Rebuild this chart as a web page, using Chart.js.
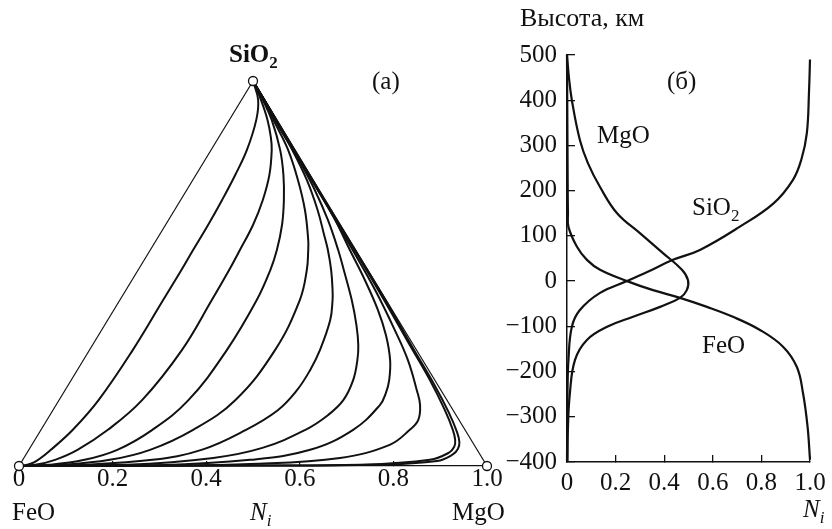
<!DOCTYPE html>
<html>
<head>
<meta charset="utf-8">
<script src="https://cdn.jsdelivr.net/npm/chart.js@4.4.1/dist/chart.umd.min.js"></script>
<style>
  body { margin: 0; background: #fff; }
  #wrap { position: relative; width: 832px; height: 529px; overflow: hidden;
          font-family: "Liberation Serif", "Times New Roman", serif; color: #111; }
  canvas { position: absolute; top: 0; }
  #ternary { left: 0; }
  #profile { left: 500px; }
  .lbl { position: absolute; font-size: 25px; line-height: 25px; white-space: nowrap; }
  .sub { font-size: 17px; position: relative; top: 6px; }
  .bold { font-weight: bold; }
</style>
</head>
<body>
<div id="wrap">
  <canvas id="ternary" width="520" height="529"></canvas>
  <canvas id="profile" width="332" height="529"></canvas>

  <div class="lbl bold" style="left:229px; top:41px;">SiO<span class="sub">2</span></div>
  <div class="lbl" style="left:372px; top:68px;">(a)</div>
  <div class="lbl" style="left:12px; top:499px;">FeO</div>
  <div class="lbl" style="left:250px; top:499px;"><i>N</i><span class="sub"><i>i</i></span></div>
  <div class="lbl" style="left:452px; top:499px;">MgO</div>

  <div class="lbl" style="left:520px; top:5px; font-size:26px; line-height:26px;">Высота, км</div>
  <div class="lbl" style="left:667px; top:68px;">(б)</div>
  <div class="lbl" style="left:597px; top:122px;">MgO</div>
  <div class="lbl" style="left:692px; top:194px;">SiO<span class="sub">2</span></div>
  <div class="lbl" style="left:702px; top:332px;">FeO</div>
  <div class="lbl" style="left:803px; top:496px;"><i>N</i><span class="sub"><i>i</i></span></div>
</div>

<script>
// --- panel (a): paths inside the FeO-MgO-SiO2 triangle, [x, y] ---
const ternaryTicks = [0, 0.2, 0.4, 0.6, 0.8, 1.0];
const vertices = [[0, 0], [0.5, 1], [1, 0]];
const edgeLeft = [[0, 0], [0.5, 1]];
const edgeRight = [[0.5, 1], [1, 0]];

const path1 = [[0.5,1],[0.511,0.951],[0.507,0.899],[0.487,0.821],[0.462,0.756],[0.434,0.691],[0.404,0.626],[0.372,0.561],[0.347,0.509],[0.308,0.431],[0.243,0.301],[0.170,0.171],[0.115,0.094],[0.068,0.042],[0.033,0.010],[0.013,0.002],[0,0]];
const path2 = [[0.5,1],[0.517,0.951],[0.531,0.899],[0.538,0.855],[0.540,0.821],[0.535,0.756],[0.521,0.691],[0.500,0.626],[0.472,0.561],[0.449,0.509],[0.412,0.431],[0.348,0.301],[0.263,0.171],[0.190,0.094],[0.125,0.042],[0.077,0.016],[0.035,0.003],[0,0]];
const path3 = [[0.5,1],[0.521,0.951],[0.540,0.899],[0.558,0.821],[0.565,0.756],[0.566,0.691],[0.562,0.626],[0.551,0.561],[0.537,0.509],[0.508,0.431],[0.444,0.301],[0.362,0.171],[0.285,0.094],[0.210,0.042],[0.140,0.016],[0.065,0.003],[0,0]];
const path4 = [[0.5,1],[0.522,0.951],[0.549,0.886],[0.575,0.821],[0.596,0.743],[0.611,0.665],[0.618,0.587],[0.618,0.561],[0.615,0.509],[0.600,0.431],[0.547,0.301],[0.462,0.171],[0.372,0.094],[0.280,0.042],[0.194,0.016],[0.090,0.003],[0,0]];
const path5 = [[0.5,1],[0.523,0.951],[0.553,0.886],[0.584,0.821],[0.615,0.743],[0.638,0.665],[0.652,0.600],[0.660,0.561],[0.667,0.509],[0.670,0.457],[0.670,0.431],[0.665,0.379],[0.643,0.301],[0.622,0.249],[0.594,0.197],[0.553,0.145],[0.485,0.094],[0.390,0.042],[0.285,0.016],[0.130,0.003],[0,0]];
const path6 = [[0.5,1],[0.524,0.951],[0.560,0.873],[0.598,0.795],[0.632,0.717],[0.660,0.639],[0.682,0.561],[0.694,0.509],[0.711,0.431],[0.721,0.366],[0.725,0.314],[0.723,0.275],[0.714,0.223],[0.693,0.171],[0.660,0.132],[0.612,0.094],[0.520,0.047],[0.415,0.021],[0.230,0.003],[0,0]];
const path7 = [[0.5,1],[0.562,0.873],[0.619,0.756],[0.670,0.652],[0.707,0.561],[0.739,0.483],[0.767,0.405],[0.784,0.340],[0.793,0.275],[0.791,0.223],[0.784,0.190],[0.771,0.158],[0.714,0.094],[0.622,0.042],[0.494,0.016],[0.300,0.002],[0,0]];
const path8 = [[0.5,1],[0.587,0.821],[0.651,0.691],[0.713,0.561],[0.761,0.457],[0.803,0.353],[0.831,0.275],[0.850,0.197],[0.857,0.158],[0.853,0.119],[0.835,0.094],[0.792,0.055],[0.686,0.021],[0.494,0.005],[0.300,0.001],[0,0]];
const path9 = [[0.5,1],[0.588,0.821],[0.652,0.691],[0.717,0.561],[0.780,0.431],[0.835,0.314],[0.878,0.223],[0.910,0.145],[0.927,0.094],[0.932,0.068],[0.930,0.050],[0.918,0.034],[0.878,0.016],[0.729,0.003],[0.494,0.001],[0,0]];
const path10 = [[0.5,1],[0.589,0.821],[0.653,0.691],[0.718,0.561],[0.783,0.431],[0.842,0.306],[0.888,0.210],[0.918,0.140],[0.936,0.088],[0.941,0.062],[0.938,0.045],[0.927,0.030],[0.893,0.013],[0.760,0.003],[0.500,0.001],[0,0]];
const paths = [path1, path2, path3, path4, path5, path6, path7, path8, path9, path10];

// --- panel (б): mole fraction vs height, km ---
const heightTicks = [-400, -300, -200, -100, 0, 100, 200, 300, 400, 500];
const fracTicks = [0, 0.2, 0.4, 0.6, 0.8, 1.0];
const mgoHeight = [500, 450, 400, 312, 261, 208, 150, 106, 62, 25, 2, -20, -37, -57, -79, -101, -130, -174, -247, -322, -400];
const mgoFrac   = [0, 0.008, 0.02, 0.053, 0.086, 0.136, 0.206, 0.30, 0.395, 0.473, 0.498, 0.493, 0.465, 0.383, 0.272, 0.165, 0.082, 0.033, 0.012, 0.004, 0.002];
const sio2Height = [490, 420, 327, 270, 224, 172, 120, 69, 47, 20, 0, -26, -64, -101, -174, -247, -322, -400];
const sio2Frac   = [1.0, 0.996, 0.987, 0.965, 0.93, 0.85, 0.71, 0.547, 0.436, 0.33, 0.247, 0.136, 0.053, 0.02, 0.006, 0.002, 0.001, 0];
const feoHeight = [500, 300, 200, 150, 120, 76, 47, 25, 0, -20, -37, -57, -79, -108, -145, -190, -247, -322, -395];
const feoFrac   = [0, 0.002, 0.003, 0.004, 0.006, 0.041, 0.082, 0.136, 0.247, 0.354, 0.465, 0.576, 0.683, 0.794, 0.889, 0.946, 0.971, 0.99, 1.0];

const INK = '#111';
const tickFont = { family: 'Liberation Serif', size: 25 };
const fracLabel = v => v === 0 ? '0' : v.toFixed(1);

const pairs = p => p.map(([x, y]) => ({ x, y }));
const zip = (xs, ys) => xs.map((x, i) => ({ x, y: ys[i] }));
const curve = (data, width, tension) => ({
    data, showLine: true, borderColor: INK, borderWidth: width,
    tension, pointRadius: 0, fill: false, clip: false
});
// keep label overhang from shrinking the plot area
const noSidePad = s => { s.paddingLeft = 0; s.paddingRight = 0; };

const base = {
    responsive: false,
    animation: false,
    devicePixelRatio: 1,
    plugins: { legend: { display: false }, tooltip: { enabled: false } }
};

// Ternary panel
new Chart(document.getElementById('ternary'), {
    type: 'scatter',
    data: {
        datasets: [
            { data: pairs(vertices), showLine: false, pointRadius: 4.5, pointBackgroundColor: '#fff',
              pointBorderColor: INK, pointBorderWidth: 1.3, clip: false },
            curve(pairs(edgeLeft), 1.2, 0),
            curve(pairs(edgeRight), 1.2, 0),
            ...paths.map(p => curve(pairs(p), 2, 0.4))
        ]
    },
    options: {
        ...base,
        layout: { padding: { left: 19, right: 33, top: 81, bottom: 0 } },
        scales: {
            x: {
                type: 'linear', min: 0, max: 1,
                afterBuildTicks: s => { s.ticks = ternaryTicks.map(v => ({ value: v })); },
                afterFit: s => { s.height = 63; noSidePad(s); },
                border: { color: INK, width: 1.3 },
                grid: { drawOnChartArea: false, tickLength: -5, color: INK, lineWidth: 1.2 },
                ticks: { padding: 3, color: INK, font: tickFont, callback: fracLabel }
            },
            y: { type: 'linear', min: 0, max: 1, display: false }
        }
    }
});

// Height profile panel
new Chart(document.getElementById('profile'), {
    type: 'scatter',
    data: {
        datasets: [
            curve(zip(mgoFrac, mgoHeight), 2.2, 0.4),
            curve(zip(sio2Frac, sio2Height), 2.2, 0.4),
            curve(zip(feoFrac, feoHeight), 2.2, 0.4)
        ]
    },
    options: {
        ...base,
        layout: { padding: { left: 0, right: 22, top: 55, bottom: 0 } },
        scales: {
            x: {
                type: 'linear', min: 0, max: 1,
                afterBuildTicks: s => { s.ticks = fracTicks.map(v => ({ value: v })); },
                afterFit: s => { s.height = 67; noSidePad(s); },
                border: { color: INK, width: 1.5 },
                grid: { drawOnChartArea: false, tickLength: -7, color: INK, lineWidth: 1.3 },
                ticks: { padding: 13, color: INK, font: tickFont, callback: fracLabel }
            },
            y: {
                type: 'linear', min: -400, max: 500,
                afterBuildTicks: s => { s.ticks = heightTicks.map(v => ({ value: v })); },
                afterFit: s => { s.width = 67; },
                border: { color: INK, width: 1.5 },
                grid: { drawOnChartArea: false, tickLength: -8, color: INK, lineWidth: 1.3 },
                ticks: { padding: 18, color: INK, font: tickFont,
                         callback: v => v < 0 ? '\u2212' + (-v) : String(v) }
            }
        }
    }
});
</script>
</body>
</html>
